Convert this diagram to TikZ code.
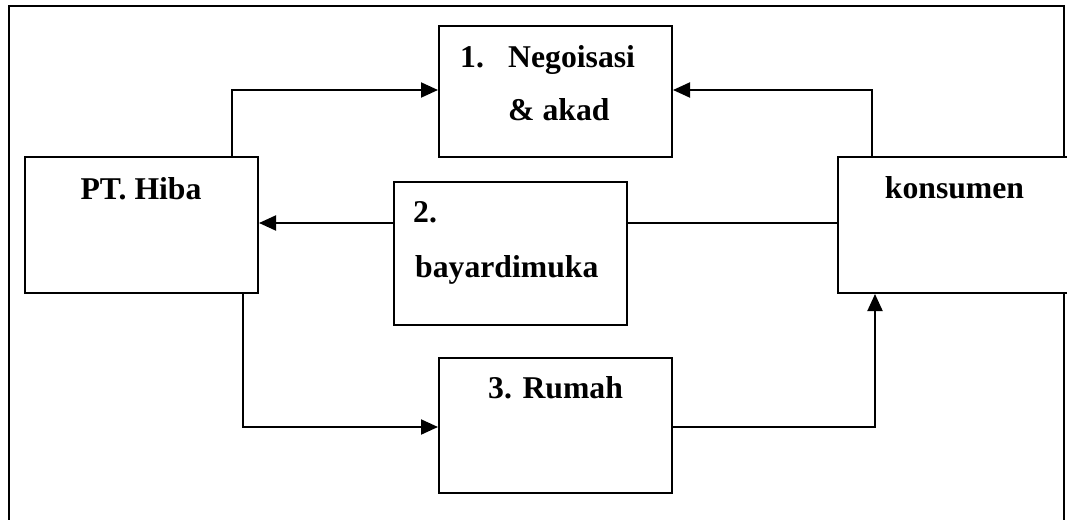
\documentclass[tikz,border=0pt]{standalone}
\usepackage{fontspec}
\setmainfont{Liberation Serif}
\usetikzlibrary{arrows.meta}
\begin{document}
\begin{tikzpicture}[x=1pt,y=-1pt,
  box/.style={draw,line width=2pt,fill=white,minimum width=233pt,inner sep=0pt},
  lbl/.style={inner sep=0pt,font=\fontsize{31.7}{38}\selectfont\bfseries},
  conn/.style={line width=2pt},
  arr/.style={conn,-{Triangle[length=17pt,width=15pt]}}]
\useasboundingbox (0,0) rectangle (1067,519);
\clip (0,0) rectangle (1067,519);
\draw[line width=2.6pt] (9,6) rectangle (1064,540);
% boxes
\node[box,minimum height=136pt] (hiba) at (141.5,225) {};
\node[box,minimum height=131pt] (nego) at (555.5,91.5) {};
\node[box,minimum height=143pt] (bayar) at (510.5,253.5) {};
\node[box,minimum height=135pt] (rumah) at (555.5,425.5) {};
\node[box,minimum height=136pt,minimum width=240pt] (kons) at (958,225) {};
% labels
\node[lbl,anchor=base] (thiba) at (141,199) {PT. Hiba};
\node[lbl,anchor=base] (tkons) at (954.5,198) {konsumen};
\node[lbl,anchor=base west] (tn1) at (460,67) {1.};
\node[lbl,anchor=base west] (tn2) at (508,67) {Negoisasi};
\node[lbl,anchor=base west] (tn3) at (508,120) {\& akad};
\node[lbl,anchor=base west] (tb1) at (413,222) {2.};
\node[lbl,anchor=base west] (tb2) at (415,277) {bayardimuka};
\node[lbl,anchor=base west] (tr1) at (488,398) {3. Rumah};
% connector coordinates
\coordinate (c1) at (232,90);
\coordinate (c2) at (872,90);
\coordinate (c3) at (0,223);
\coordinate (c4) at (243,427);
\coordinate (c5) at (875,427);
% connectors
\draw[arr] (c1 |- hiba.north) -- (c1) -- (c1 -| nego.west);
\draw[arr] (c2 |- kons.north) -- (c2) -- (c2 -| nego.east);
\draw[conn] (c3 -| kons.west) -- (c3 -| bayar.east);
\draw[arr] (c3 -| bayar.west) -- (c3 -| hiba.east);
\draw[arr] (c4 |- hiba.south) -- (c4) -- (c4 -| rumah.west);
\draw[arr] (c5 -| rumah.east) -- (c5) -- (c5 |- kons.south);
\end{tikzpicture}
\end{document}
